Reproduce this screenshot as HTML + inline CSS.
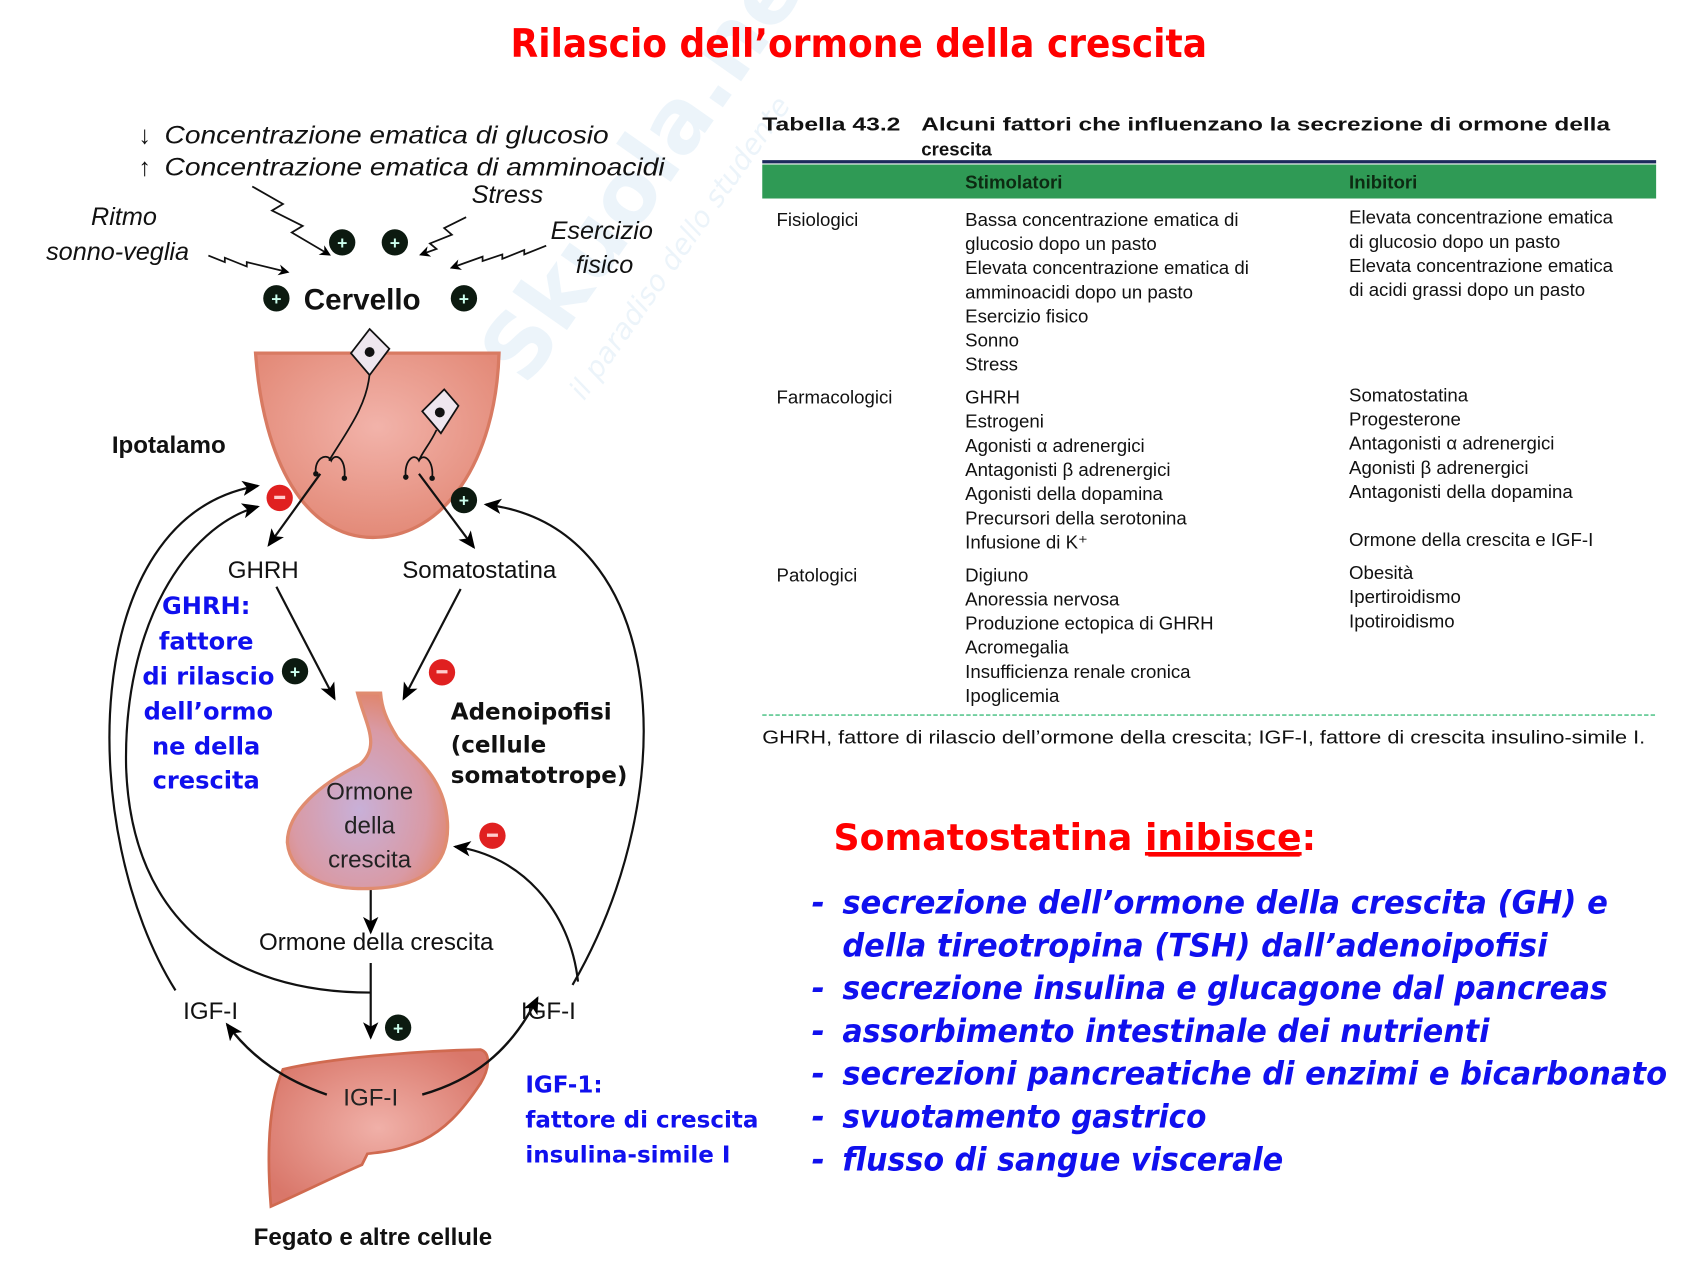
<!DOCTYPE html>
<html><head><meta charset="utf-8"><style>
html,body{margin:0;padding:0;background:#fff;}
svg{display:block}
.t{font-family:"Liberation Sans",sans-serif;}
.c{font-family:"DejaVu Sans","Liberation Sans",sans-serif;font-weight:bold;}
</style></head><body>
<svg width="1700" height="1275" viewBox="0 0 1550 1162.5" xmlns="http://www.w3.org/2000/svg">
<defs>
<marker id="a" markerWidth="10" markerHeight="10" refX="8" refY="5" orient="auto" markerUnits="userSpaceOnUse"><path d="M0,0 L10,5 L0,10 L3,5 Z" fill="#000"/></marker>
<marker id="b" markerWidth="16" markerHeight="14" refX="14" refY="7" orient="auto" markerUnits="userSpaceOnUse"><path d="M0,0 L16,7 L0,14 L4,7 Z" fill="#000"/></marker>
<radialGradient id="hg" cx="50%" cy="40%" r="60%"><stop offset="0" stop-color="#f2b3aa"/><stop offset="1" stop-color="#e38a78"/></radialGradient>
<radialGradient id="pg" cx="45%" cy="60%" r="60%"><stop offset="0" stop-color="#c8b0d8"/><stop offset="0.7" stop-color="#d99aa5"/><stop offset="1" stop-color="#e0866f"/></radialGradient>
<radialGradient id="lg" cx="50%" cy="50%" r="60%"><stop offset="0" stop-color="#f0b0a8"/><stop offset="1" stop-color="#d9776a"/></radialGradient>
</defs>

<!-- watermark -->
<g opacity="0.09" transform="rotate(-55 530 230)">
<text x="400" y="260" class="c" font-size="80" fill="#3a8fd0">Skuola.net</text>
<text x="420" y="310" font-family="DejaVu Sans" font-style="italic" font-size="26" fill="#3a8fd0">il paradiso dello studente</text>
</g>

<!-- title -->
<text x="783" y="52" text-anchor="middle" class="c" font-size="36" fill="#ff0000" textLength="635" lengthAdjust="spacingAndGlyphs">Rilascio dell’ormone della crescita</text>

<!-- TABLE -->
<g class="t" fill="#111">
<text x="695" y="119" font-weight="bold" font-size="17" textLength="126" lengthAdjust="spacingAndGlyphs">Tabella 43.2</text>
<text x="840" y="119" font-weight="bold" font-size="17" textLength="628" lengthAdjust="spacingAndGlyphs">Alcuni fattori che influenzano la secrezione di ormone della</text>
<text x="840" y="142" font-weight="bold" font-size="17">crescita</text>
</g>
<rect x="695" y="146" width="815" height="3" fill="#1c2a5c"/>
<rect x="695" y="150" width="815" height="31" fill="#2f9a55"/>
<text x="880" y="172" class="t" font-weight="bold" font-size="17" fill="#0d2a12">Stimolatori</text>
<text x="1230" y="172" class="t" font-weight="bold" font-size="17" fill="#0d2a12">Inibitori</text>
<g class="t" font-size="17" fill="#111">
<text x="708" y="206">Fisiologici</text>
<text x="880" y="206">Bassa concentrazione ematica di</text>
<text x="880" y="228">glucosio dopo un pasto</text>
<text x="880" y="250">Elevata concentrazione ematica di</text>
<text x="880" y="272">amminoacidi dopo un pasto</text>
<text x="880" y="294">Esercizio fisico</text>
<text x="880" y="316">Sonno</text>
<text x="880" y="338">Stress</text>
<text x="1230" y="204">Elevata concentrazione ematica</text>
<text x="1230" y="226">di glucosio dopo un pasto</text>
<text x="1230" y="248">Elevata concentrazione ematica</text>
<text x="1230" y="270">di acidi grassi dopo un pasto</text>
<text x="708" y="368">Farmacologici</text>
<text x="880" y="368">GHRH</text>
<text x="880" y="390">Estrogeni</text>
<text x="880" y="412">Agonisti α adrenergici</text>
<text x="880" y="434">Antagonisti β adrenergici</text>
<text x="880" y="456">Agonisti della dopamina</text>
<text x="880" y="478">Precursori della serotonina</text>
<text x="880" y="500">Infusione di K⁺</text>
<text x="1230" y="366">Somatostatina</text>
<text x="1230" y="388">Progesterone</text>
<text x="1230" y="410">Antagonisti α adrenergici</text>
<text x="1230" y="432">Agonisti β adrenergici</text>
<text x="1230" y="454">Antagonisti della dopamina</text>
<text x="1230" y="498">Ormone della crescita e IGF-I</text>
<text x="708" y="530">Patologici</text>
<text x="880" y="530">Digiuno</text>
<text x="880" y="552">Anoressia nervosa</text>
<text x="880" y="574">Produzione ectopica di GHRH</text>
<text x="880" y="596">Acromegalia</text>
<text x="880" y="618">Insufficienza renale cronica</text>
<text x="880" y="640">Ipoglicemia</text>
<text x="1230" y="528">Obesità</text>
<text x="1230" y="550">Ipertiroidismo</text>
<text x="1230" y="572">Ipotiroidismo</text>
<text x="695" y="678" textLength="805" lengthAdjust="spacingAndGlyphs">GHRH, fattore di rilascio dell’ormone della crescita; IGF-I, fattore di crescita insulino-simile I.</text>
</g>
<line x1="695" y1="652" x2="1510" y2="652" stroke="#5cc890" stroke-width="1.5" stroke-dasharray="4,2"/>

<!-- Somatostatina inibisce -->
<text x="760" y="775" class="c" font-size="33" fill="#ff0000" textLength="440" lengthAdjust="spacingAndGlyphs">Somatostatina <tspan text-decoration="underline">inibisce</tspan>:</text>
<line x1="1047" y1="780" x2="1185" y2="780" stroke="#ff0000" stroke-width="2"/>
<g class="c" font-size="29" fill="#1010ee" font-style="italic">
<text x="740" y="833">-</text><text x="768" y="833" textLength="698" lengthAdjust="spacingAndGlyphs">secrezione dell’ormone della crescita (GH) e</text>
<text x="768" y="872" textLength="643" lengthAdjust="spacingAndGlyphs">della tireotropina (TSH) dall’adenoipofisi</text>
<text x="740" y="911">-</text><text x="768" y="911" textLength="698" lengthAdjust="spacingAndGlyphs">secrezione insulina e glucagone dal pancreas</text>
<text x="740" y="950">-</text><text x="768" y="950" textLength="590" lengthAdjust="spacingAndGlyphs">assorbimento intestinale dei nutrienti</text>
<text x="740" y="989">-</text><text x="768" y="989" textLength="752" lengthAdjust="spacingAndGlyphs">secrezioni pancreatiche di enzimi e bicarbonato</text>
<text x="740" y="1028">-</text><text x="768" y="1028" textLength="332" lengthAdjust="spacingAndGlyphs">svuotamento gastrico</text>
<text x="740" y="1067">-</text><text x="768" y="1067" textLength="402" lengthAdjust="spacingAndGlyphs">flusso di sangue viscerale</text>
</g>

<!-- LEFT DIAGRAM -->
<g class="t" font-style="italic" font-size="23" fill="#111">
<text x="126" y="131">↓</text><text x="150" y="131" textLength="405" lengthAdjust="spacingAndGlyphs">Concentrazione ematica di glucosio</text>
<text x="126" y="160">↑</text><text x="150" y="160" textLength="456" lengthAdjust="spacingAndGlyphs">Concentrazione ematica di amminoacidi</text>
<text x="430" y="185">Stress</text>
<text x="83" y="205">Ritmo</text>
<text x="42" y="237">sonno-veglia</text>
<text x="502" y="218">Esercizio</text>
<text x="525" y="249">fisico</text>
</g>
<g fill="none" stroke="#111" stroke-width="1.6">
<path d="M230,170 L258,186 L248,192 L276,206 L266,212 L300,232" marker-end="url(#a)"/>
<path d="M425,198 L405,208 L412,214 L392,222 L398,227 L384,232" marker-end="url(#a)"/>
<path d="M190,233 L205,239 L205,235 L225,243 L225,239 L262,248" marker-end="url(#a)"/>
<path d="M498,224 L478,232 L478,228 L458,236 L458,232 L440,238 L440,234 L412,244" marker-end="url(#a)"/>
</g>
<g>
<circle cx="312" cy="221" r="12" fill="#0c1a10"/><text x="312" y="227" text-anchor="middle" fill="#cfe" font-size="16" font-weight="bold" class="t">+</text>
<circle cx="360" cy="221" r="12" fill="#0c1a10"/><text x="360" y="227" text-anchor="middle" fill="#cfe" font-size="16" font-weight="bold" class="t">+</text>
<circle cx="252" cy="272" r="12" fill="#0c1a10"/><text x="252" y="278" text-anchor="middle" fill="#cfe" font-size="16" font-weight="bold" class="t">+</text>
<circle cx="423" cy="272" r="12" fill="#0c1a10"/><text x="423" y="278" text-anchor="middle" fill="#cfe" font-size="16" font-weight="bold" class="t">+</text>
</g>
<text x="277" y="282" class="t" font-weight="bold" font-size="27" fill="#111">Cervello</text>

<!-- hypothalamus -->
<path d="M233,322 L455,322 C452,420 405,490 340,490 C278,490 240,420 233,322 Z" fill="url(#hg)" stroke="#d87a62" stroke-width="3"/>
<g stroke="#111" stroke-width="1.6" fill="none">
<path d="M337,340 C335,370 315,395 300,420"/>
<path d="M288,432 C286,418 298,412 302,420 C306,412 316,418 314,436"/>
<path d="M398,392 C392,405 385,412 382,420"/>
<path d="M370,435 C368,420 378,412 382,420 C386,412 396,420 394,436"/>
</g>
<circle cx="288" cy="432" r="2.5" fill="#111"/><circle cx="314" cy="436" r="2.5" fill="#111"/>
<circle cx="370" cy="435" r="2.5" fill="#111"/><circle cx="394" cy="436" r="2.5" fill="#111"/>
<path d="M337,300 L355,318 L337,342 L320,322 Z" fill="#eee6ee" stroke="#111" stroke-width="1.6"/>
<circle cx="337" cy="321" r="4.5" fill="#111"/>
<path d="M405,355 L418,370 L402,395 L385,375 Z" fill="#eee6ee" stroke="#111" stroke-width="1.6"/>
<circle cx="401" cy="376" r="4.5" fill="#111"/>
<text x="102" y="413" class="t" font-weight="bold" font-size="22" fill="#111">Ipotalamo</text>

<g stroke="#111" stroke-width="2" fill="none">
<path d="M292,432 L245,497" marker-end="url(#b)"/>
<path d="M382,432 L432,499" marker-end="url(#b)"/>
<path d="M252,535 L305,637" marker-end="url(#b)"/>
<path d="M420,537 L368,637" marker-end="url(#b)"/>
<path d="M338,800 L338,850" marker-end="url(#b)"/>
<path d="M338,878 L338,946" marker-end="url(#b)"/>
<path d="M160,903 C70,760 70,470 235,443" marker-end="url(#b)"/>
<path d="M338,905 C210,905 120,840 115,700 C112,570 170,480 235,462" marker-end="url(#b)"/>
<path d="M522,898 C625,720 610,480 443,460" marker-end="url(#b)"/>
<path d="M527,895 C520,830 475,780 415,772" marker-end="url(#b)"/>
</g>
<circle cx="255" cy="454" r="12" fill="#e02020"/><rect x="250" y="452" width="10" height="3" fill="#fcc"/>
<circle cx="423" cy="456" r="12" fill="#0c1a10"/><text x="423" y="462" text-anchor="middle" fill="#cfe" font-size="16" font-weight="bold" class="t">+</text>
<text x="240" y="527" text-anchor="middle" class="t" font-size="22" fill="#111">GHRH</text>
<text x="437" y="527" text-anchor="middle" class="t" font-size="22" fill="#111">Somatostatina</text>
<g class="c" font-size="22" fill="#1010ee" text-anchor="middle">
<text x="188" y="560">GHRH:</text>
<text x="188" y="592">fattore</text>
<text x="190" y="624">di rilascio</text>
<text x="190" y="656">dell’ormo</text>
<text x="188" y="688">ne della</text>
<text x="188" y="719">crescita</text>
</g>
<circle cx="269" cy="612" r="12" fill="#0c1a10"/><text x="269" y="618" text-anchor="middle" fill="#cfe" font-size="16" font-weight="bold" class="t">+</text>
<circle cx="403" cy="613" r="12" fill="#e02020"/><rect x="398" y="611" width="10" height="3" fill="#fcc"/>

<!-- pituitary -->
<path d="M326,632 C333,660 348,680 328,697 C292,715 262,740 262,768 C265,800 300,812 340,810 C385,808 410,790 408,750 C405,705 375,690 362,672 C352,656 348,645 347,632 Z" fill="url(#pg)" stroke="#e08c70" stroke-width="3"/>
<g class="t" font-size="22" fill="#222" text-anchor="middle">
<text x="337" y="729">Ormone</text><text x="337" y="760">della</text><text x="337" y="791">crescita</text>
</g>
<g class="c" font-size="21" fill="#111">
<text x="411" y="656">Adenoipofisi</text><text x="411" y="686">(cellule</text><text x="411" y="714">somatotrope)</text>
</g>
<circle cx="449" cy="762" r="12" fill="#e02020"/><rect x="444" y="760" width="10" height="3" fill="#fcc"/>
<text x="343" y="866" text-anchor="middle" class="t" font-size="22" fill="#111">Ormone della crescita</text>
<text x="192" y="929" text-anchor="middle" class="t" font-size="22" fill="#111">IGF-I</text>
<text x="500" y="929" text-anchor="middle" class="t" font-size="22" fill="#111">IGF-I</text>
<circle cx="363" cy="937" r="12" fill="#0c1a10"/><text x="363" y="943" text-anchor="middle" fill="#cfe" font-size="16" font-weight="bold" class="t">+</text>

<!-- liver -->
<path d="M258,975 C300,965 380,958 438,957 C448,960 446,975 438,988 C420,1015 405,1030 385,1040 C360,1050 350,1050 335,1052 L330,1062 C300,1075 270,1090 247,1100 C243,1050 245,1005 258,975 Z" fill="url(#lg)" stroke="#d06a50" stroke-width="2.5"/>
<text x="338" y="1008" text-anchor="middle" class="t" font-size="22" fill="#222">IGF-I</text>
<g stroke="#111" stroke-width="2.2" fill="none">
<path d="M298,998 C260,985 230,965 207,934" marker-end="url(#b)"/>
<path d="M385,998 C430,985 465,960 490,910" marker-end="url(#b)"/>
</g>
<text x="340" y="1135" text-anchor="middle" class="t" font-weight="bold" font-size="22" fill="#111">Fegato e altre cellule</text>
<g class="c" font-size="21" fill="#1010ee">
<text x="479" y="996">IGF-1:</text>
<text x="479" y="1028">fattore di crescita</text>
<text x="479" y="1060">insulina-simile I</text>
</g>
</svg>
</body></html>
